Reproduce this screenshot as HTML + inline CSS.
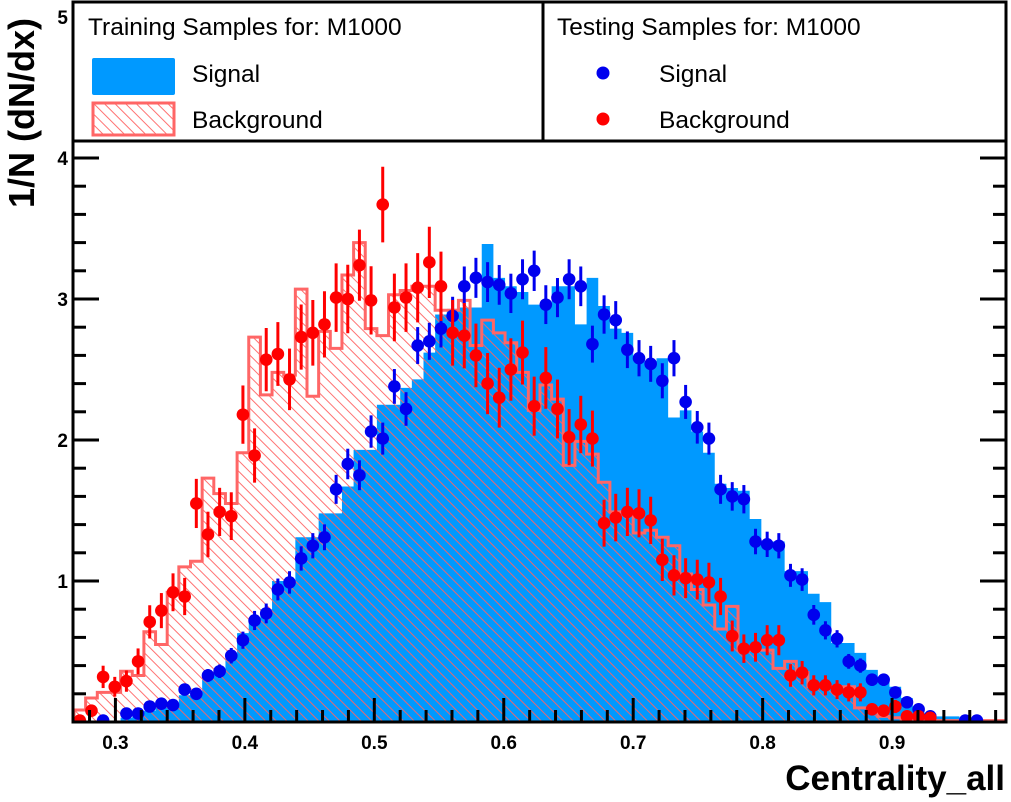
<!DOCTYPE html>
<html><head><meta charset="utf-8"><style>
html,body{margin:0;padding:0;background:#fff;}
svg{display:block;font-family:"Liberation Sans",Arial,sans-serif;}
</style></head><body>
<svg id="chart" width="1011" height="802" viewBox="0 0 1011 802" xmlns="http://www.w3.org/2000/svg">
<defs>
<pattern id="hatch" patternUnits="userSpaceOnUse" width="7.5" height="7.5" patternTransform="rotate(-45)">
<line x1="0.5" y1="-1" x2="0.5" y2="9" stroke="#ff6262" stroke-width="0.9"/>
</pattern>
<clipPath id="plotclip"><rect x="73" y="2" width="933" height="720"/></clipPath>
</defs>
<rect x="0" y="0" width="1011" height="802" fill="#fff"/>
<g id="plot" clip-path="url(#plotclip)"></g>
<g id="axes"></g>
<g id="legend-left">
<rect x="73" y="2" width="470" height="139" fill="#fff" stroke="#000" stroke-width="3"/>
<text x="88" y="35" font-size="24.5" fill="#000">Training Samples for: M1000</text>
<rect x="92" y="58" width="83" height="37" rx="2" fill="#0099ff"/>
<text x="192" y="82" font-size="24.5">Signal</text>
<rect x="93" y="103" width="81" height="32" fill="url(#hatch)" stroke="#ff6666" stroke-width="3"/>
<text x="192" y="128" font-size="24.5">Background</text>
</g>
<g id="legend-right">
<rect x="543" y="2" width="463" height="139" fill="#fff" stroke="#000" stroke-width="3"/>
<text x="557" y="35" font-size="24.5">Testing Samples for: M1000</text>
<circle cx="603" cy="73" r="6.5" fill="#0000ee"/>
<text x="659" y="82" font-size="24.5">Signal</text>
<circle cx="603" cy="119" r="6.5" fill="#ff0000"/>
<text x="659" y="128" font-size="24.5">Background</text>
</g>
<text x="1005" y="790" font-size="35" font-weight="bold" text-anchor="end">Centrality_all</text>
<text transform="translate(34,113) rotate(-90)" font-size="36" font-weight="bold" text-anchor="middle">1/N (dN/dx)</text>
</svg>
<script>
const xMin = 0.268, xMax = 0.988, nBins = 80;
const yTicks = [1, 2, 3, 4, 5];
const xTicks = [0.3, 0.4, 0.5, 0.6, 0.7, 0.8, 0.9];
const xTickLabels = ["0.3", "0.4", "0.5", "0.6", "0.7", "0.8", "0.9"];
const signalTrain = [0.01,0.01,0.01,0.01,0.03,0.04,0.08,0.11,0.13,0.19,0.21,0.33,0.36,0.46,0.63,0.72,0.8,1.0,1.0,1.31,1.31,1.48,1.48,1.67,1.93,1.93,2.25,2.25,2.37,2.43,2.62,2.89,2.93,2.94,2.94,3.39,3.15,3.09,3.05,2.96,2.96,3.09,3.09,2.82,3.15,2.95,2.79,2.76,2.57,2.54,2.58,2.16,2.21,2.06,1.91,1.69,1.66,1.64,1.44,1.28,1.28,1.07,1.07,0.91,0.85,0.56,0.56,0.49,0.37,0.31,0.25,0.17,0.11,0.06,0.04,0.04,0.03,0.03,0.01,0.01];
const backgroundTrain = [0.085,0.17,0.21,0.21,0.36,0.33,0.64,0.55,0.92,1.10,1.14,1.73,1.62,1.55,1.91,2.73,2.32,2.48,2.46,3.07,2.31,2.77,2.65,3.17,3.40,2.79,2.74,3.03,3.06,3.09,3.09,2.92,2.92,2.99,2.67,2.85,2.76,2.69,2.48,2.21,2.39,2.29,1.82,1.99,1.90,1.70,1.49,1.49,1.34,1.36,1.31,1.25,1.05,0.94,0.83,0.66,0.82,0.51,0.51,0.51,0.38,0.43,0.35,0.25,0.25,0.25,0.25,0.10,0.10,0.04,0.03,0.02,0.02,0.01,0.01,0.01,0.01,0.01,0.01,0.01];
const signalTest = [null,null,0.01,null,0.06,0.06,0.11,0.13,0.12,0.23,0.20,0.33,0.36,0.47,0.58,0.72,0.77,0.94,0.99,1.16,1.25,1.31,1.65,1.83,1.75,2.06,2.01,2.38,2.22,2.67,2.70,2.79,2.88,3.09,3.15,3.12,3.10,3.04,3.14,3.20,2.96,3.01,3.14,3.09,2.68,2.89,2.85,2.64,2.58,2.54,2.42,2.58,2.27,2.09,2.01,1.65,1.60,1.58,1.28,1.26,1.25,1.04,1.01,0.76,0.65,0.59,0.43,0.40,0.30,0.30,0.21,0.14,0.09,0.04,null,null,0.01,0.01,null,null];
const backgroundTest = [0.01,0.08,0.32,0.25,0.29,0.43,0.71,0.79,0.92,0.89,1.55,1.33,1.49,1.46,2.18,1.89,2.57,2.61,2.43,2.73,2.76,2.82,3.01,3.00,3.24,2.99,3.67,2.94,3.01,3.08,3.26,3.09,2.76,2.74,2.60,2.40,2.30,2.50,2.62,2.24,2.44,2.22,2.02,2.11,2.01,1.41,1.45,1.49,1.48,1.43,1.15,1.04,1.02,1.01,0.99,0.89,0.61,0.52,0.53,0.58,0.58,0.33,0.35,0.26,0.26,0.23,0.21,0.21,0.09,0.08,0.11,0.04,0.04,0.03,null,null,null,null,null,null];

const X = v => 74 + (v - xMin) / (xMax - xMin) * 932;
const Y = v => 722 - v * 141;
const binW = (xMax - xMin) / nBins;
const NS = "http://www.w3.org/2000/svg";
const plot = document.getElementById('plot');
const axes = document.getElementById('axes');
function mk(tag, parent, attrs) {
  const e = document.createElementNS(NS, tag);
  for (const k in attrs) e.setAttribute(k, attrs[k]);
  parent.appendChild(e);
  return e;
}
function histPath(vals) {
  let d = "M" + X(xMin) + "," + Y(0);
  vals.forEach((v, i) => {
    d += " L" + X(xMin + i * binW).toFixed(2) + "," + Y(v).toFixed(2);
    d += " L" + X(xMin + (i + 1) * binW).toFixed(2) + "," + Y(v).toFixed(2);
  });
  d += " L" + X(xMax) + "," + Y(0) + " Z";
  return d;
}
const sig = mk('path', plot, {d: histPath(signalTrain), fill: '#0099ff', stroke: 'none'});


const bkg = mk('path', plot, {d: histPath(backgroundTrain), fill: 'url(#hatch)', stroke: '#ff6666', 'stroke-width': 3});



function drawPoints(vals, color, k, name) {
  const g = mk('g', plot, {});
  
  
  vals.forEach((v, i) => {
    if (v === null) return;
    const cx = X(xMin + (i + 0.5) * binW);
    const err = k * Math.sqrt(v);
    const ln = mk('line', g, {x1: cx, x2: cx, y1: Y(v + err), y2: Y(Math.max(0, v - err)), stroke: color, 'stroke-width': 3});
    
    
    const c = mk('circle', g, {cx: cx, cy: Y(v), r: 6.3, fill: color});
    
    
  });
}
drawPoints(signalTest, '#0000ee', 0.08, 'signal-test');
drawPoints(backgroundTest, '#ff0000', 0.14, 'background-test');

const fr = mk('rect', axes, {x: 73, y: 2, width: 933, height: 720, fill: 'none', stroke: '#000', 'stroke-width': 3});


for (let m = 0; m <= 25; m++) {
  const v = m * 0.2;
  const y = Y(v);
  if (y < 3) continue;
  const major = m % 5 === 0;
  const len = major ? 26 : 13;
  const t1 = mk('line', axes, {x1: 73, x2: 73 + len, y1: y, y2: y, stroke: '#000', 'stroke-width': 3});
  
  
  const t2 = mk('line', axes, {x1: 1006, x2: 1006 - len, y1: y, y2: y, stroke: '#000', 'stroke-width': 3});
  
  
}
yTicks.forEach(v => {
  const t = mk('text', axes, {x: 68, y: Y(v) + 7, 'font-size': 19, 'font-weight': 'bold', 'text-anchor': 'end'});
  t.textContent = String(v);
  
  
});
for (let m = 14; m <= 49; m++) {
  const v = m * 0.02;
  if (v < xMin || v > xMax) continue;
  const x = X(v);
  const major = m % 5 === 0;
  const len = major ? 24 : 12;
  const t1 = mk('line', axes, {x1: x, x2: x, y1: 722, y2: 722 - len, stroke: '#000', 'stroke-width': 3});
  
  
  const t2 = mk('line', axes, {x1: x, x2: x, y1: 2, y2: 2 + len, stroke: '#000', 'stroke-width': 3});
  
  
}
xTicks.forEach((v, i) => {
  const t = mk('text', axes, {x: X(v), y: 749, 'font-size': 19, 'font-weight': 'bold', 'text-anchor': 'middle'});
  t.textContent = xTickLabels[i];
  
  
});
const svg = document.getElementById('chart');
svg.appendChild(document.getElementById('legend-left'));
svg.appendChild(document.getElementById('legend-right'));
</script>
</body></html>
